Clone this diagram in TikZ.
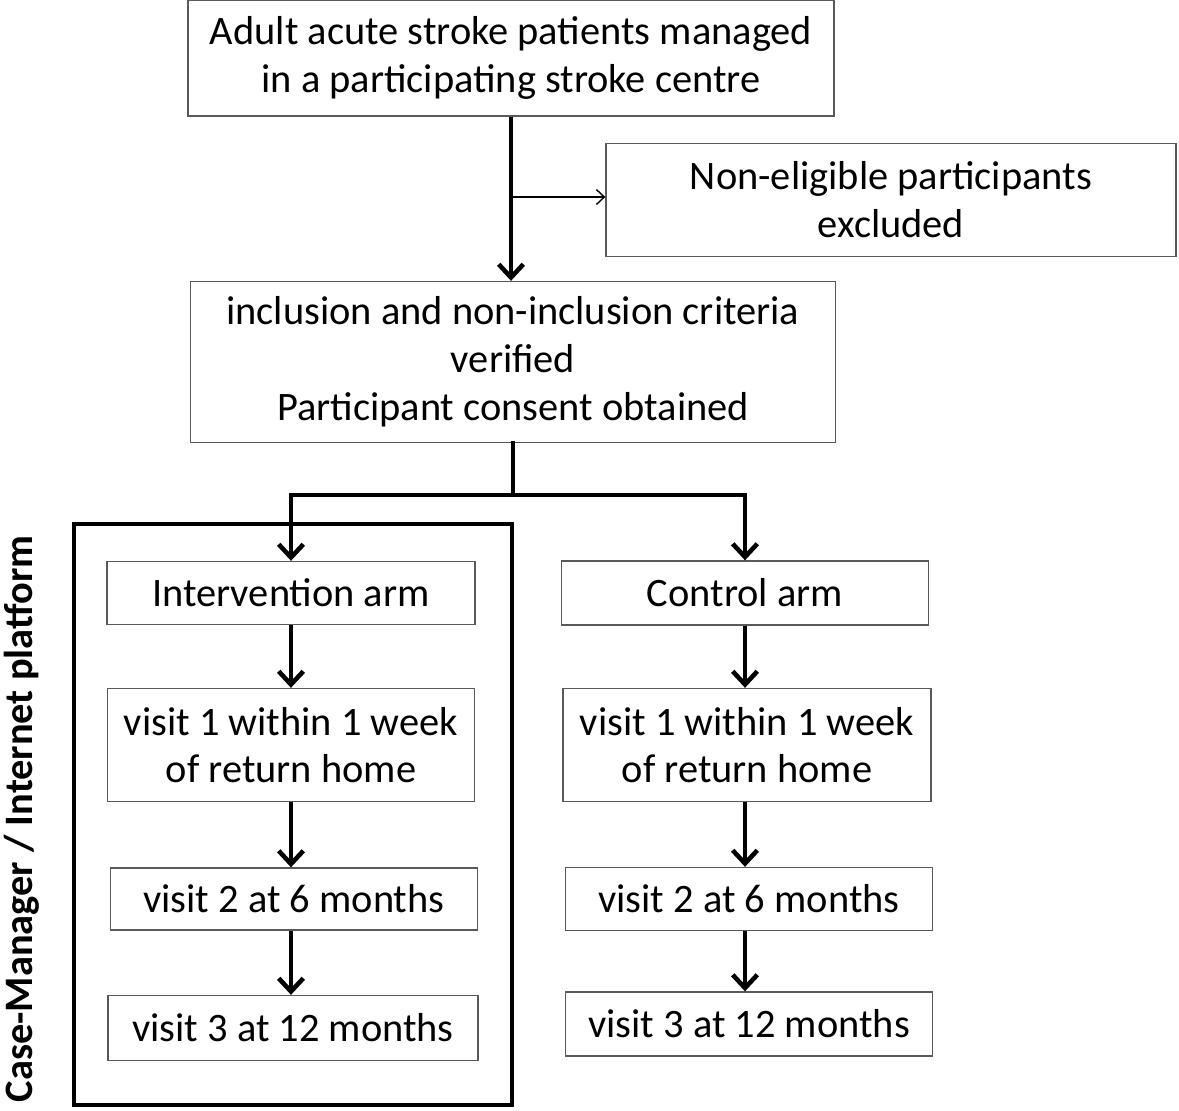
\documentclass[tikz,border=0pt]{standalone}
\usepackage{fontspec}
\setmainfont{Carlito}
\usetikzlibrary{arrows.meta,positioning}
\tikzset{
    %Define standard arrow tips
    bigtip/.tip={Straight Barb[length=7.5pt,width=14pt,line width=2.6pt]},
    smalltip/.tip={Straight Barb[length=4.5pt,width=8.5pt]},
    %Define style for boxes
    punktrect/.style={
           rectangle,
           draw=black!65, line width=0.8pt,
           inner sep=0pt,
           align=center,
           font=\fontsize{23}{27.2}\selectfont},
    % Define arrow styles
    pil/.style={-bigtip, line width=2.6pt},
    tynn/.style={-smalltip, line width=0.8pt},
    strek/.style={line width=2.6pt, line cap=rect}
}
\begin{document}
\begin{tikzpicture}[x=0.02cm,y=-0.02cm]
\useasboundingbox (0,0) rectangle (1179,1110);

% top of the flow
\node[punktrect, minimum width=12.92cm, minimum height=2.32cm] (top) at (511,58)
    {Adult acute stroke patients managed\\in a participating stroke centre};
\node[punktrect, minimum width=11.4cm, minimum height=2.26cm] (excl) at (891,200)
    {Non-eligible participants\\excluded};
\node[punktrect, minimum width=12.9cm, minimum height=3.22cm] (crit) at (513,362)
    {inclusion and non-inclusion criteria\\verified\\Participant consent obtained};

% intervention arm
\node[punktrect, minimum width=7.36cm, minimum height=1.26cm] (intarm) at (291,593) {Intervention arm};
\node[punktrect, minimum width=7.34cm, minimum height=2.26cm] (iv1) at (291,745) {visit 1 within 1 week\\of return home};
\node[punktrect, minimum width=7.34cm, minimum height=1.24cm] (iv2) at (294,899) {visit 2 at 6 months};
\node[punktrect, minimum width=7.4cm, minimum height=1.3cm] (iv3) at (293,1028) {visit 3 at 12 months};

% control arm
\node[punktrect, minimum width=7.34cm, minimum height=1.28cm] (ctlarm) at (745,593) {Control arm};
\node[punktrect, minimum width=7.36cm, minimum height=2.26cm] (cv1) at (747,745) {visit 1 within 1 week\\of return home};
\node[punktrect, minimum width=7.34cm, minimum height=1.26cm] (cv2) at (749,899) {visit 2 at 6 months};
\node[punktrect, minimum width=7.34cm, minimum height=1.28cm] (cv3) at (749,1024) {visit 3 at 12 months};

% frame and side label
\node[draw, line width=2.6pt, minimum width=8.76cm, minimum height=11.62cm, inner sep=0pt] (frame) at (293,814.5) {};
\node[rotate=90, font=\fontsize{23}{27}\selectfont\bfseries] (side) at (22,819)
    {Case-Manager / Internet platform};

\coordinate (br) at (512,197);
\coordinate (sp) at (514,495);

\draw[pil] (top.south) -- (top.south |- crit.north);
\draw[tynn] (br) -- (br -| excl.west);
\draw[strek] (crit.south) -- (crit.south |- sp);
\draw[strek] (intarm.north |- sp) -- (ctlarm.north |- sp);
\draw[pil] (intarm.north |- sp) -- (intarm.north);
\draw[pil] (ctlarm.north |- sp) -- (ctlarm.north);

\draw[pil] (intarm.south) -- (intarm.south |- iv1.north);
\draw[pil] (iv1.south) -- (iv1.south |- iv2.north);
\draw[pil] (iv2.south -| iv1.south) -- (iv1.south |- iv3.north);
\draw[pil] (ctlarm.south) -- (ctlarm.south |- cv1.north);
\draw[pil] (cv1.south -| ctlarm.south) -- (ctlarm.south |- cv2.north);
\draw[pil] (cv2.south -| ctlarm.south) -- (ctlarm.south |- cv3.north);

\end{tikzpicture}
\end{document}
